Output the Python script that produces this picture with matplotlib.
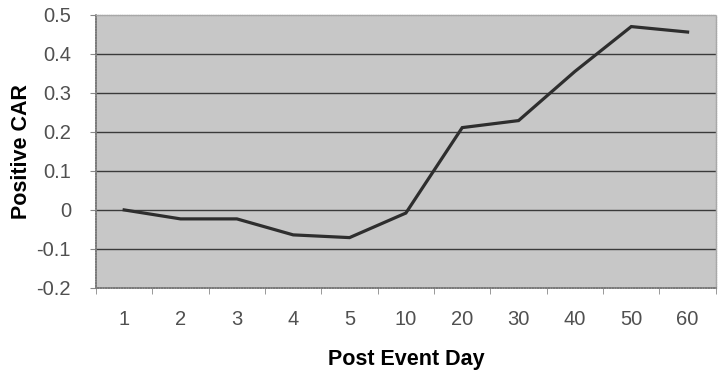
import numpy as np
import matplotlib
matplotlib.use('Agg')
import matplotlib.pyplot as plt

plt.rcParams['font.family'] = ['Liberation Sans', 'DejaVu Sans']

# Cumulative abnormal return by post-event day
days = ['1', '2', '3', '4', '5', '10', '20', '30', '40', '50', '60']
car = [0.0, -0.023, -0.023, -0.064, -0.071, -0.008, 0.211, 0.229, 0.355, 0.470, 0.456]

y_ticks = [-0.2, -0.1, 0, 0.1, 0.2, 0.3, 0.4, 0.5]
y_labels = ['-0.2', '-0.1', '0', '0.1', '0.2', '0.3', '0.4', '0.5']

fig = plt.figure(figsize=(7.19, 3.72), dpi=100)
ax = fig.add_axes([0.1335, 0.226, 0.862, 0.734])
ax.set_facecolor('#c7c7c7')

x = np.arange(len(days))
ax.set_xlim(-0.5, len(days) - 0.5)
ax.set_ylim(-0.2, 0.5)

for yv in y_ticks[1:-1]:
    ax.axhline(yv, color='#3a3a3a', linewidth=1.0, zorder=1)

ax.plot(x, car, color='#2e2e2e', linewidth=2.3, solid_joinstyle='miter', zorder=3)

# category labels centred, tick marks between categories
ax.set_xticks(x)
ax.set_xticklabels(days)
ax.set_xticks(np.arange(len(days) + 1) - 0.5, minor=True)
ax.tick_params(axis='x', which='major', length=0, pad=16, labelsize=14.5, labelcolor='#505050')
ax.tick_params(axis='x', which='minor', length=4, color='#888888', direction='out')

ax.set_yticks(y_ticks)
ax.set_yticklabels(y_labels)
ax.tick_params(axis='y', length=4, color='#888888', pad=14, labelsize=14.5, labelcolor='#505050')

for side in ['left', 'bottom']:
    ax.spines[side].set_color('#7a7a7a')
    ax.spines[side].set_linewidth(1.2)
    ax.spines[side].set_linestyle((0, (1, 0.6)))
for side in ['top', 'right']:
    ax.spines[side].set_color('#a8a8a8')
    ax.spines[side].set_linewidth(1.0)
    ax.spines[side].set_linestyle((0, (1, 0.6)))

ax.set_xlabel('Post Event Day', fontsize=15.5, fontweight='bold', labelpad=14)
ax.set_ylabel('Positive CAR', fontsize=15.5, fontweight='bold', labelpad=3)

fig.savefig('out.png', dpi=100, facecolor='white')
